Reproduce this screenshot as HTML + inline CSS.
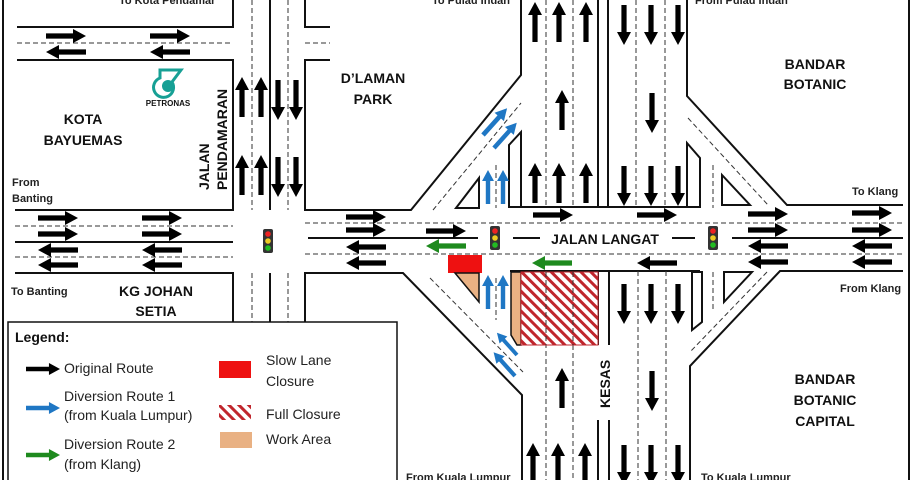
<!DOCTYPE html>
<html><head><meta charset="utf-8"><style>
html,body{margin:0;padding:0;background:#fff}
svg{display:block}
text{font-family:"Liberation Sans",sans-serif;}
.b{font-weight:bold;font-size:14px;fill:#111}
.s{font-size:11px;font-weight:bold;fill:#222}
.l{font-size:14px;fill:#222}
</style></head><body>
<svg width="915" height="480" viewBox="0 0 915 480" xmlns="http://www.w3.org/2000/svg">
<defs>
<polygon id="ar" points="0,-2.6 27,-2.6 27,-7 40,0 27,7 27,2.6 0,2.6"/>
<pattern id="hat" width="7" height="7" patternUnits="userSpaceOnUse" patternTransform="rotate(-45)">
<rect width="7" height="7" fill="#fff"/><rect width="3" height="7" fill="#c0262d"/></pattern>
</defs>
<rect x="0" y="0" width="915" height="480" fill="#fff"/>
<g stroke="#111" stroke-width="2" fill="none">
<line x1="3" y1="0" x2="3" y2="480"/><line x1="909" y1="0" x2="909" y2="480"/>
<polyline points="17,27 233,27 233,0"/><polyline points="17,60 233,60 233,210 15,210"/>
<polyline points="305,0 305,27 330,27"/><polyline points="330,60 305,60 305,210 411,210 521,75 521,0"/>
<polyline points="15,273 233,273 233,322"/><polyline points="305,322 305,273 403,273 522,395 522,480"/>
<polyline points="687,0 687,96 787,205 903,205"/>
<polyline points="903,271 780,271 690,366 690,480"/>
<line x1="270" y1="0" x2="270" y2="210"/><line x1="270" y1="273" x2="270" y2="322"/>
<line x1="15" y1="242" x2="233" y2="242"/>
<line x1="308" y1="238" x2="478" y2="238"/>
<line x1="513" y1="238" x2="540" y2="238"/><line x1="672" y1="238" x2="695" y2="238"/>
<line x1="732" y1="238" x2="903" y2="238"/>
<line x1="598" y1="0" x2="598" y2="207"/><line x1="608" y1="0" x2="608" y2="207"/>
<line x1="598" y1="271" x2="598" y2="345"/><line x1="609" y1="271" x2="609" y2="345"/>
<line x1="598" y1="420" x2="598" y2="480"/><line x1="609" y1="420" x2="609" y2="480"/>
<line x1="509" y1="207" x2="700" y2="207"/><line x1="510" y1="271" x2="700" y2="271"/>
<polygon points="509,207 509,145 521,132 521,207"/>
<polygon points="687,207 687,143 700,158 700,207"/>
<polygon points="456,208 479,208 479,178"/>
<polygon points="722,175 722,205 750,205"/>
<polygon points="724,272 752,272 724,302"/>
<polygon points="692,272 702,272 702,322 692,330"/>
</g>
<g stroke="#333" stroke-width="1" stroke-dasharray="5,3" fill="none">
<line x1="17" y1="43" x2="233" y2="43"/><line x1="305" y1="43" x2="330" y2="43"/>
<line x1="252" y1="0" x2="252" y2="210"/><line x1="288" y1="0" x2="288" y2="210"/>
<line x1="252" y1="273" x2="252" y2="322"/><line x1="288" y1="273" x2="288" y2="322"/>
<line x1="15" y1="226" x2="233" y2="226"/><line x1="15" y1="257" x2="233" y2="257"/>
<line x1="305" y1="223" x2="903" y2="223"/><line x1="305" y1="254" x2="903" y2="254"/>
<line x1="546" y1="0" x2="546" y2="207"/><line x1="573" y1="0" x2="573" y2="207"/>
<line x1="636" y1="0" x2="636" y2="207"/><line x1="665" y1="0" x2="665" y2="207"/>
<line x1="546" y1="271" x2="546" y2="480"/><line x1="573" y1="345" x2="573" y2="480"/>
<line x1="638" y1="271" x2="638" y2="480"/><line x1="666" y1="271" x2="666" y2="480"/>
<line x1="496" y1="165" x2="496" y2="208"/><line x1="496" y1="278" x2="496" y2="320"/>
<line x1="713" y1="165" x2="713" y2="208"/><line x1="713" y1="272" x2="713" y2="312"/>
<line x1="433" y1="210" x2="521" y2="103"/><line x1="688" y1="118" x2="768" y2="205"/>
<line x1="430" y1="278" x2="523" y2="372"/><line x1="767" y1="272" x2="690" y2="352"/>
</g>
<rect x="448" y="255" width="34" height="18" fill="#ee1111"/>
<polygon points="455,273 479,273 479,302" fill="#e9b183" stroke="#111" stroke-width="1.5"/>
<polygon points="511,272 521,272 521,345 517,345 511,335" fill="#e9b183" stroke="#111" stroke-width="1.5"/>
<rect x="521" y="272" width="77" height="73" fill="url(#hat)" stroke="#c0262d" stroke-width="1"/>
<line x1="546" y1="272" x2="546" y2="345" stroke="#333" stroke-dasharray="5,3"/>
<line x1="573" y1="272" x2="573" y2="345" stroke="#333" stroke-dasharray="5,3"/>
<g fill="#000">
<use href="#ar" transform="translate(46,36)"/><use href="#ar" transform="translate(150,36)"/>
<use href="#ar" transform="translate(86,52) rotate(180)"/><use href="#ar" transform="translate(190,52) rotate(180)"/>
<use href="#ar" transform="translate(242,117) rotate(-90)"/><use href="#ar" transform="translate(261,117) rotate(-90)"/>
<use href="#ar" transform="translate(278,80) rotate(90)"/><use href="#ar" transform="translate(296,80) rotate(90)"/>
<use href="#ar" transform="translate(242,195) rotate(-90)"/><use href="#ar" transform="translate(261,195) rotate(-90)"/>
<use href="#ar" transform="translate(278,157) rotate(90)"/><use href="#ar" transform="translate(296,157) rotate(90)"/>
<use href="#ar" transform="translate(38,218)"/><use href="#ar" transform="translate(142,218)"/>
<use href="#ar" transform="translate(38,234)"/><use href="#ar" transform="translate(142,234)"/>
<use href="#ar" transform="translate(78,250) rotate(180)"/><use href="#ar" transform="translate(182,250) rotate(180)"/>
<use href="#ar" transform="translate(78,265) rotate(180)"/><use href="#ar" transform="translate(182,265) rotate(180)"/>
<use href="#ar" transform="translate(346,217)"/><use href="#ar" transform="translate(346,230)"/>
<use href="#ar" transform="translate(386,247) rotate(180)"/><use href="#ar" transform="translate(386,263) rotate(180)"/>
<use href="#ar" transform="translate(426,231)"/>
<use href="#ar" transform="translate(533,215)"/><use href="#ar" transform="translate(637,215)"/>
<use href="#ar" transform="translate(677,263) rotate(180)"/>
<use href="#ar" transform="translate(748,214)"/><use href="#ar" transform="translate(748,230)"/>
<use href="#ar" transform="translate(788,246) rotate(180)"/><use href="#ar" transform="translate(788,262) rotate(180)"/>
<use href="#ar" transform="translate(852,213)"/><use href="#ar" transform="translate(852,230)"/>
<use href="#ar" transform="translate(892,246) rotate(180)"/><use href="#ar" transform="translate(892,262) rotate(180)"/>
<use href="#ar" transform="translate(535,42) rotate(-90)"/><use href="#ar" transform="translate(559,42) rotate(-90)"/><use href="#ar" transform="translate(586,42) rotate(-90)"/>
<use href="#ar" transform="translate(624,5) rotate(90)"/><use href="#ar" transform="translate(651,5) rotate(90)"/><use href="#ar" transform="translate(678,5) rotate(90)"/>
<use href="#ar" transform="translate(562,130) rotate(-90)"/><use href="#ar" transform="translate(652,93) rotate(90)"/>
<use href="#ar" transform="translate(535,203) rotate(-90)"/><use href="#ar" transform="translate(559,203) rotate(-90)"/><use href="#ar" transform="translate(586,203) rotate(-90)"/>
<use href="#ar" transform="translate(624,166) rotate(90)"/><use href="#ar" transform="translate(651,166) rotate(90)"/><use href="#ar" transform="translate(678,166) rotate(90)"/>
<use href="#ar" transform="translate(624,284) rotate(90)"/><use href="#ar" transform="translate(651,284) rotate(90)"/><use href="#ar" transform="translate(678,284) rotate(90)"/>
<use href="#ar" transform="translate(562,408) rotate(-90)"/><use href="#ar" transform="translate(652,371) rotate(90)"/>
<use href="#ar" transform="translate(533,483) rotate(-90)"/><use href="#ar" transform="translate(558,483) rotate(-90)"/><use href="#ar" transform="translate(585,483) rotate(-90)"/>
<use href="#ar" transform="translate(624,445) rotate(90)"/><use href="#ar" transform="translate(651,445) rotate(90)"/><use href="#ar" transform="translate(678,445) rotate(90)"/>
</g>
<g fill="#1f77c4">
<use href="#ar" transform="translate(483,135) rotate(-48) scale(0.9)"/>
<use href="#ar" transform="translate(494,148) rotate(-48) scale(0.85)"/>
<use href="#ar" transform="translate(488,204) rotate(-90) scale(0.85)"/><use href="#ar" transform="translate(503,204) rotate(-90) scale(0.85)"/>
<use href="#ar" transform="translate(488,309) rotate(-90) scale(0.85)"/><use href="#ar" transform="translate(503,309) rotate(-90) scale(0.85)"/>
<use href="#ar" transform="translate(517,355) rotate(-132) scale(0.75)"/>
<use href="#ar" transform="translate(515,376) rotate(-132) scale(0.8)"/>
</g>
<g fill="#1e8a1e">
<use href="#ar" transform="translate(466,246) rotate(180)"/><use href="#ar" transform="translate(572,263) rotate(180)"/>
</g>
<g>
<rect x="263" y="229" width="10" height="24" rx="2" fill="#333"/><circle cx="268" cy="234" r="2.8" fill="#e22"/><circle cx="268" cy="241" r="2.8" fill="#ec2"/><circle cx="268" cy="248" r="2.8" fill="#2b2"/>
<rect x="490" y="226" width="10" height="24" rx="2" fill="#333"/><circle cx="495" cy="231" r="2.8" fill="#e22"/><circle cx="495" cy="238" r="2.8" fill="#ec2"/><circle cx="495" cy="245" r="2.8" fill="#2b2"/>
<rect x="708" y="226" width="10" height="24" rx="2" fill="#333"/><circle cx="713" cy="231" r="2.8" fill="#e22"/><circle cx="713" cy="238" r="2.8" fill="#ec2"/><circle cx="713" cy="245" r="2.8" fill="#2b2"/>
</g>
<g fill="#17a095">
<path d="M160,70 L181,70 L172,82 A10,10 0 1 1 160,78 Z" fill="none" stroke="#17a095" stroke-width="3"/>
<circle cx="168" cy="86" r="6"/>
</g>
<text x="168" y="106" text-anchor="middle" style="font-size:8px;font-weight:bold" fill="#111">PETRONAS</text>
<text class="b" x="83" y="124" text-anchor="middle">KOTA</text>
<text class="b" x="83" y="145" text-anchor="middle">BAYUEMAS</text>
<text class="b" x="373" y="83" text-anchor="middle">D’LAMAN</text>
<text class="b" x="373" y="104" text-anchor="middle">PARK</text>
<text class="b" x="815" y="69" text-anchor="middle">BANDAR</text>
<text class="b" x="815" y="89" text-anchor="middle">BOTANIC</text>
<text class="b" x="825" y="384" text-anchor="middle">BANDAR</text>
<text class="b" x="825" y="405" text-anchor="middle">BOTANIC</text>
<text class="b" x="825" y="426" text-anchor="middle">CAPITAL</text>
<text class="b" x="156" y="296" text-anchor="middle">KG JOHAN</text>
<text class="b" x="156" y="316" text-anchor="middle">SETIA</text>
<text class="b" x="605" y="244" text-anchor="middle">JALAN LANGAT</text>
<text class="b" transform="translate(209,190) rotate(-90)">JALAN</text>
<text class="b" transform="translate(227,190) rotate(-90)">PENDAMARAN</text>
<text class="b" transform="translate(610,408) rotate(-90)">KESAS</text>
<text class="s" x="119" y="4">To Kota Pendamar</text>
<text class="s" x="432" y="4">To Pulau Indah</text>
<text class="s" x="695" y="4">From Pulau Indah</text>
<text class="s" x="12" y="186">From</text>
<text class="s" x="12" y="202">Banting</text>
<text class="s" x="11" y="295">To Banting</text>
<text class="s" x="852" y="195">To Klang</text>
<text class="s" x="840" y="292">From Klang</text>
<text class="s" x="406" y="481">From Kuala Lumpur</text>
<text class="s" x="701" y="481">To Kuala Lumpur</text>
<rect x="8" y="322" width="389" height="160" fill="#fff" stroke="#111" stroke-width="1.5"/>
<text x="15" y="342" style="font-size:14px;font-weight:bold" fill="#111">Legend:</text>
<use href="#ar" transform="translate(26,369) scale(0.85)" fill="#000"/>
<text class="l" x="64" y="373">Original Route</text>
<use href="#ar" transform="translate(26,408) scale(0.85)" fill="#1f77c4"/>
<text class="l" x="64" y="401">Diversion Route 1</text>
<text class="l" x="64" y="420">(from Kuala Lumpur)</text>
<use href="#ar" transform="translate(26,455) scale(0.85)" fill="#1e8a1e"/>
<text class="l" x="64" y="449">Diversion Route 2</text>
<text class="l" x="64" y="469">(from Klang)</text>
<rect x="219" y="361" width="32" height="17" fill="#ee1111"/>
<text class="l" x="266" y="365">Slow Lane</text>
<text class="l" x="266" y="386">Closure</text>
<rect x="219" y="405" width="32" height="15" fill="url(#hat)"/>
<text class="l" x="266" y="419">Full Closure</text>
<rect x="220" y="432" width="32" height="16" fill="#e9b183"/>
<text class="l" x="266" y="444">Work Area</text>
</svg>
</body></html>
